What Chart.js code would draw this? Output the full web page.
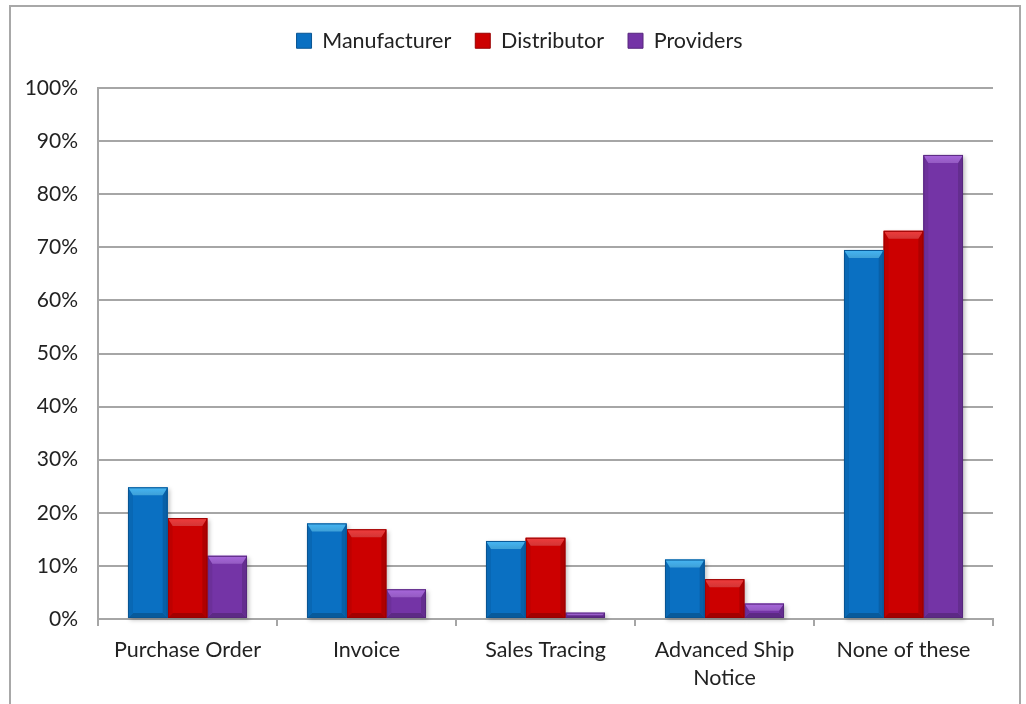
<!DOCTYPE html>
<html>
<head>
<meta charset="utf-8">
<script src="https://cdn.jsdelivr.net/npm/chart.js@4.4.1/dist/chart.umd.min.js"></script>
<style>
  html, body { margin: 0; padding: 0; background: #ffffff; }
  canvas { display: block; }
</style>
</head>
<body>
<canvas id="chart" width="1026" height="704"></canvas>
<script>
// Categories and series (percent of respondents)
const categories = ['Purchase Order', 'Invoice', 'Sales Tracing', ['Advanced Ship', 'Notice'], 'None of these'];
const seriesNames = ['Manufacturer', 'Distributor', 'Providers'];
const manufacturer = [24.8, 18.0, 14.7, 11.2, 69.5];
const distributor = [19.0, 16.9, 15.3, 7.5, 73.1];
const providers = [11.9, 5.6, 1.2, 2.9, 87.4];
const yTicks = [0, 10, 20, 30, 40, 50, 60, 70, 80, 90, 100];

const bodyColors = ['#0a70c2', '#cc0000', '#7434a6'];
const topColors = ['#46b6f4', '#f03c3c', '#a867dc'];

const FONT = 'Lato, "Open Sans", sans-serif';
const GRID = '#a6a6a6';
const TEXT = '#222222';

function shade(hex, f) {
  const n = parseInt(hex.slice(1), 16);
  const r = (n >> 16) & 255, g = (n >> 8) & 255, b = n & 255;
  const m = v => Math.max(0, Math.min(255, Math.round(v * f)));
  return 'rgb(' + m(r) + ',' + m(g) + ',' + m(b) + ')';
}

// White page with a thin grey frame
const frame = {
  id: 'frame',
  beforeDraw(chart) {
    const ctx = chart.ctx;
    ctx.save();
    ctx.fillStyle = '#ffffff';
    ctx.fillRect(0, 0, chart.width, chart.height);
    ctx.strokeStyle = '#a8a8a8';
    ctx.lineWidth = 2;
    ctx.strokeRect(10, 6, chart.width - 16, chart.height + 10);
    ctx.restore();
  }
};

// Legend: extra room below it, and centred a little right of the canvas middle
const legendPlace = {
  id: 'legendPlace',
  beforeLayout(chart) {
    const lg = chart.legend;
    if (lg && !lg.$spaced) {
      const fit = lg.fit;
      lg.fit = function () { fit.call(this); this.height = 82; };
      lg.$spaced = true;
    }
  },
  afterLayout(chart) {
    const lg = chart.legend;
    if (lg) {
      lg.left = 46;
      lg.right = chart.chartArea.right;
      lg.width = lg.right - lg.left;
    }
  }
};

// Soft drop shadow behind every bar
const barShadow = {
  id: 'barShadow',
  beforeDatasetsDraw(chart) {
    const ctx = chart.ctx;
    ctx.save();
    ctx.filter = 'blur(2px)';
    ctx.fillStyle = 'rgba(0,0,0,0.25)';
    chart.data.datasets.forEach((ds, i) => {
      chart.getDatasetMeta(i).data.forEach(bar => {
        const p = bar.getProps(['x', 'y', 'base', 'width'], true);
        const top = Math.min(p.y, p.base), h = Math.abs(p.base - p.y);
        ctx.fillRect(p.x - p.width / 2 + 2, top + 2, p.width, h);
      });
    });
    ctx.restore();
  }
};

// Bevelled edges on each bar
const bevel = {
  id: 'bevel',
  afterDatasetDraw(chart, args) {
    const ctx = chart.ctx;
    const i = args.index;
    const body = bodyColors[i];
    args.meta.data.forEach(bar => {
      const p = bar.getProps(['x', 'y', 'base', 'width'], true);
      const l = p.x - p.width / 2, r = p.x + p.width / 2;
      const t = Math.min(p.y, p.base), bt = Math.max(p.y, p.base);
      const h = bt - t;
      const b = Math.min(8, h / 2), s = Math.min(5, h / 2);
      ctx.save();
      const poly = (pts, c) => {
        ctx.beginPath();
        ctx.moveTo(pts[0][0], pts[0][1]);
        for (let k = 1; k < pts.length; k++) ctx.lineTo(pts[k][0], pts[k][1]);
        ctx.closePath();
        ctx.fillStyle = c;
        ctx.fill();
      };
      poly([[l, bt], [r, bt], [r - s, bt - s], [l + s, bt - s]], shade(body, 0.8));
      poly([[l, t], [l + s, t + b], [l + s, bt - s], [l, bt]], shade(body, 0.93));
      poly([[r, t], [r - s, t + b], [r - s, bt - s], [r, bt]], shade(body, 0.86));
      const g = ctx.createLinearGradient(0, t, 0, t + b);
      g.addColorStop(0, topColors[i]);
      g.addColorStop(1, shade(topColors[i], 0.88));
      poly([[l, t], [r, t], [r - s, t + b], [l + s, t + b]], g);
      ctx.strokeStyle = shade(body, 0.75);
      ctx.lineWidth = 1;
      ctx.strokeRect(l + 0.5, t + 0.5, p.width - 1, h - 1);
      ctx.restore();
    });
  }
};

const seriesValues = [manufacturer, distributor, providers];

new Chart(document.getElementById('chart'), {
  type: 'bar',
  data: {
    labels: categories,
    datasets: seriesNames.map((name, i) => ({
      label: name,
      data: seriesValues[i],
      backgroundColor: bodyColors[i],
      borderWidth: 0,
      categoryPercentage: 0.665,
      barPercentage: 1.0
    }))
  },
  options: {
    responsive: false,
    animation: false,
    layout: { padding: { left: 10, right: 33, top: 6, bottom: 0 } },
    plugins: {
      legend: {
        position: 'top',
        align: 'center',
        labels: {
          font: { family: FONT, size: 21.5 },
          color: TEXT,
          boxWidth: 15,
          boxHeight: 15,
          padding: 24,
          generateLabels(chart) {
            return chart.data.datasets.map((ds, i) => ({
              text: ds.label,
              fillStyle: bodyColors[i],
              strokeStyle: shade(bodyColors[i], 0.75),
              lineWidth: 1,
              fontColor: TEXT,
              datasetIndex: i,
              hidden: false
            }));
          }
        }
      },
      tooltip: { enabled: false }
    },
    scales: {
      x: {
        grid: {
          display: true,
          drawOnChartArea: false,
          drawTicks: true,
          tickLength: 7,
          color: GRID,
          lineWidth: 2,
          offset: true
        },
        border: { display: true, color: GRID, width: 2 },
        ticks: {
          font: { family: FONT, size: 21.5, lineHeight: 1.3 },
          color: TEXT,
          padding: 10,
          maxRotation: 0,
          autoSkip: false
        },
        afterFit(scale) { scale.height = 85; }
      },
      y: {
        min: 0,
        max: 100,
        grid: { color: GRID, lineWidth: 2, drawTicks: false },
        border: { display: true, color: GRID, width: 2 },
        afterBuildTicks(scale) { scale.ticks = yTicks.map(v => ({ value: v })); },
        ticks: {
          font: { family: FONT, size: 21 },
          color: TEXT,
          padding: 20,
          callback: v => v + '%'
        },
        afterFit(scale) { scale.width = 88; }
      }
    }
  },
  plugins: [frame, legendPlace, barShadow, bevel]
});
</script>
</body>
</html>
